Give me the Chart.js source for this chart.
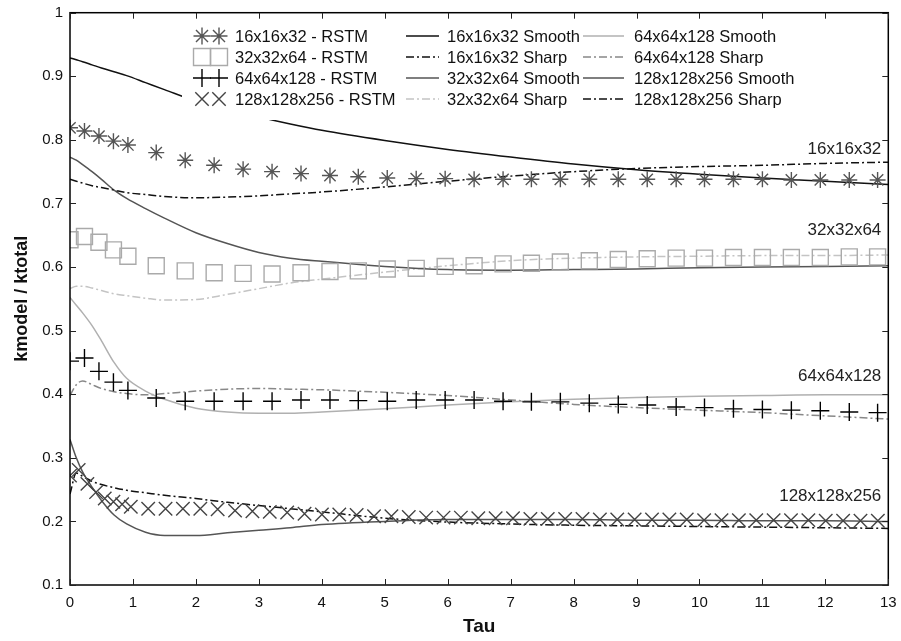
<!DOCTYPE html>
<html>
<head>
<meta charset="utf-8">
<script src="https://cdn.jsdelivr.net/npm/chart.js@4.4.1/dist/chart.umd.min.js"></script>
<style>
html,body{margin:0;padding:0;background:#fff;}
#wrap{width:901px;height:641px;}
</style>
</head>
<body>
<div id="wrap"><canvas id="c" width="901" height="641"></canvas></div>
<script>
// ---- data ----
const tauStar = [0,0.23,0.46,0.69,0.92,1.37,1.83,2.29,2.75,3.21,3.67,4.13,4.58,5.04,5.5,5.96,6.42,6.88,7.33,7.79,8.25,8.71,9.17,9.63,10.08,10.54,11,11.46,11.92,12.38,12.83];
const rstm16 = [0.819,0.814,0.806,0.798,0.792,0.780,0.768,0.760,0.754,0.750,0.747,0.744,0.742,0.740,0.739,0.739,0.738,0.738,0.738,0.738,0.738,0.738,0.738,0.738,0.738,0.738,0.738,0.737,0.737,0.737,0.737];
const rstm32 = [0.643,0.648,0.639,0.627,0.617,0.602,0.594,0.591,0.590,0.589,0.591,0.593,0.594,0.597,0.598,0.601,0.602,0.605,0.606,0.608,0.610,0.612,0.613,0.614,0.614,0.615,0.615,0.615,0.615,0.616,0.616];
const rstm64 = [0.452,0.457,0.436,0.419,0.406,0.394,0.389,0.389,0.389,0.389,0.391,0.391,0.390,0.389,0.391,0.391,0.391,0.389,0.388,0.388,0.386,0.384,0.383,0.380,0.379,0.377,0.376,0.375,0.374,0.372,0.371];
const tauX = [0,0.138,0.276,0.414,0.552,0.69,0.828,0.966,1.242,1.518,1.794,2.07,2.346,2.622,2.898,3.174,3.45,3.726,4.002,4.278,4.554,4.83,5.106,5.382,5.658,5.934,6.21,6.486,6.762,7.038,7.314,7.59,7.866,8.142,8.418,8.694,8.97,9.246,9.522,9.798,10.074,10.35,10.626,10.902,11.178,11.454,11.73,12.006,12.282,12.558,12.834];
const rstm128 = [0.272,0.281,0.259,0.246,0.236,0.231,0.227,0.223,0.220,0.220,0.220,0.220,0.219,0.217,0.216,0.215,0.214,0.212,0.211,0.211,0.210,0.208,0.208,0.207,0.206,0.206,0.206,0.205,0.205,0.205,0.204,0.204,0.204,0.204,0.203,0.203,0.203,0.203,0.203,0.203,0.202,0.202,0.202,0.202,0.202,0.202,0.202,0.201,0.201,0.201,0.201];

const tauCurve = [0,0.1,0.2,0.35,0.5,0.7,0.9,1.2,1.5,2,2.5,3,3.5,4,5,6,7,8,9,10,11,12,13];
const smooth16 = [0.929,0.926,0.923,0.918,0.913,0.907,0.901,0.890,0.879,0.861,0.848,0.836,0.825,0.815,0.799,0.785,0.773,0.762,0.753,0.746,0.740,0.735,0.730];
const sharp16 = [0.738,0.735,0.732,0.728,0.725,0.721,0.717,0.714,0.711,0.709,0.710,0.712,0.715,0.718,0.726,0.735,0.743,0.750,0.755,0.758,0.760,0.763,0.765];
const smooth32 = [0.773,0.768,0.761,0.750,0.738,0.721,0.708,0.692,0.677,0.654,0.637,0.623,0.614,0.609,0.601,0.596,0.595,0.596,0.597,0.599,0.600,0.601,0.602];
const sharp32 = [0.566,0.570,0.570,0.567,0.563,0.558,0.555,0.551,0.548,0.549,0.557,0.566,0.575,0.581,0.592,0.602,0.610,0.614,0.616,0.617,0.618,0.618,0.619];
const smooth64 = [0.552,0.540,0.528,0.508,0.484,0.450,0.425,0.405,0.392,0.378,0.372,0.370,0.370,0.372,0.377,0.383,0.388,0.392,0.395,0.397,0.398,0.399,0.399];
const sharp64 = [0.398,0.415,0.421,0.415,0.409,0.404,0.401,0.399,0.401,0.405,0.408,0.409,0.408,0.407,0.403,0.398,0.391,0.384,0.379,0.375,0.371,0.366,0.361];
const smooth128 = [0.329,0.300,0.278,0.254,0.233,0.210,0.196,0.183,0.178,0.178,0.182,0.186,0.190,0.195,0.200,0.203,0.203,0.203,0.202,0.202,0.201,0.201,0.200];
const sharp128 = [0.243,0.276,0.271,0.263,0.258,0.253,0.249,0.245,0.241,0.236,0.230,0.225,0.220,0.215,0.205,0.199,0.196,0.194,0.193,0.192,0.191,0.190,0.189];

const curveLabels = ["16x16x32","32x32x64","64x64x128","128x128x256"];
const curveLabelValues = [0.785, 0.658, 0.428, 0.240];

// ---- build ----
const pts = (xs, ys) => xs.map((x, i) => ({x: x, y: ys[i]}));
const DASHDOT = [8, 3, 2, 3];

function markerSet(label, ys, xs, style, color, r) {
  return {label, data: pts(xs, ys), showLine: false, pointStyle: style, pointRadius: r,
    pointBorderColor: color, pointBackgroundColor: 'rgba(0,0,0,0)', pointBorderWidth: 1.4,
    borderColor: color, backgroundColor: 'rgba(0,0,0,0)', _marker: style};
}
function lineSet(label, ys, color, dashed) {
  return {label, data: pts(tauCurve, ys), showLine: true, pointRadius: 0, borderColor: color,
    backgroundColor: color, borderWidth: 1.5, borderDash: dashed ? DASHDOT : [],
    cubicInterpolationMode: 'monotone', tension: 0.4, fill: false};
}

const datasets = [
  markerSet('16x16x32 - RSTM', rstm16, tauStar, 'star', '#555555', 8),
  markerSet('32x32x64 - RSTM', rstm32, tauStar, 'rect', '#aaaaaa', 11.3),
  markerSet('64x64x128 - RSTM', rstm64, tauStar, 'cross', '#000000', 9),
  markerSet('128x128x256 - RSTM', rstm128, tauX, 'crossRot', '#444444', 9.5),
  lineSet('16x16x32 Smooth', smooth16, '#111111', false),
  lineSet('16x16x32 Sharp', sharp16, '#111111', true),
  lineSet('32x32x64 Smooth', smooth32, '#555555', false),
  lineSet('32x32x64 Sharp', sharp32, '#c4c4c4', true),
  lineSet('64x64x128 Smooth', smooth64, '#b0b0b0', false),
  lineSet('64x64x128 Sharp', sharp64, '#888888', true),
  lineSet('128x128x256 Smooth', smooth128, '#555555', false),
  lineSet('128x128x256 Sharp', sharp128, '#111111', true)
];

function drawMarker(ctx, style, x, y, r, color) {
  ctx.save();
  ctx.strokeStyle = color; ctx.lineWidth = 1.4; ctx.setLineDash([]);
  ctx.beginPath();
  const d = r * Math.SQRT1_2;
  if (style === 'star' || style === 'cross') {
    ctx.moveTo(x - r, y); ctx.lineTo(x + r, y);
    ctx.moveTo(x, y - r); ctx.lineTo(x, y + r);
  }
  if (style === 'star' || style === 'crossRot') {
    ctx.moveTo(x - d, y - d); ctx.lineTo(x + d, y + d);
    ctx.moveTo(x - d, y + d); ctx.lineTo(x + d, y - d);
  }
  if (style === 'rect') {
    ctx.rect(x - d, y - d, 2 * d, 2 * d);
  }
  ctx.stroke();
  ctx.restore();
}

const overlay = {
  id: 'overlay',
  afterDatasetsDraw(chart) {
    const ctx = chart.ctx;
    const xs = chart.scales.x, ys = chart.scales.y;
    // curve labels
    ctx.save();
    ctx.fillStyle = '#222';
    ctx.font = '17px "Liberation Sans", Arial, sans-serif';
    ctx.textAlign = 'right'; ctx.textBaseline = 'middle';
    curveLabels.forEach((t, i) => ctx.fillText(t, xs.right - 7, ys.getPixelForValue(curveLabelValues[i])));
    ctx.restore();
    // legend box
    ctx.save();
    ctx.fillStyle = '#ffffff';
    ctx.fillRect(182, 20, 620, 100);
    ctx.font = '16.5px "Liberation Sans", Arial, sans-serif';
    ctx.textAlign = 'left'; ctx.textBaseline = 'middle';
    ctx.fillStyle = '#111';
    const rowY = [36, 57, 78, 99];
    const ds = chart.data.datasets;
    const sizes = {star: 8.5, rect: 12, cross: 9, crossRot: 9.5};
    for (let i = 0; i < 4; i++) {
      const d = ds[i];
      drawMarker(ctx, d._marker, 202, rowY[i], sizes[d._marker], d.pointBorderColor);
      drawMarker(ctx, d._marker, 219, rowY[i], sizes[d._marker], d.pointBorderColor);
      ctx.fillText(d.label, 235, rowY[i] + 1);
    }
    const cols = [[406, 439, 447], [583, 624, 634]];
    for (let i = 4; i < 12; i++) {
      const d = ds[i];
      const c = cols[Math.floor((i - 4) / 4)];
      const y = rowY[(i - 4) % 4];
      ctx.save();
      ctx.strokeStyle = d.borderColor; ctx.lineWidth = 1.5; ctx.setLineDash(d.borderDash);
      ctx.beginPath(); ctx.moveTo(c[0], y); ctx.lineTo(c[1], y); ctx.stroke();
      ctx.restore();
      ctx.fillText(d.label, c[2], y + 1);
    }
    ctx.restore();
  },
  afterDraw(chart) {
    const ctx = chart.ctx;
    const a = chart.chartArea;
    const xs = chart.scales.x, ys = chart.scales.y;
    ctx.save();
    ctx.strokeStyle = '#000'; ctx.lineWidth = 1.5; ctx.setLineDash([]);
    ctx.strokeRect(a.left, a.top, a.right - a.left, a.bottom - a.top);
    ctx.lineWidth = 1;
    ctx.strokeStyle = '#222';
    ctx.beginPath();
    const tl = 6;
    xs.ticks.forEach(t => {
      const px = Math.round(xs.getPixelForValue(t.value)) + 0.5;
      ctx.moveTo(px, a.bottom); ctx.lineTo(px, a.bottom - tl);
      ctx.moveTo(px, a.top); ctx.lineTo(px, a.top + tl);
    });
    ys.ticks.forEach(t => {
      const py = Math.round(ys.getPixelForValue(t.value)) + 0.5;
      ctx.moveTo(a.left, py); ctx.lineTo(a.left + tl, py);
      ctx.moveTo(a.right, py); ctx.lineTo(a.right - tl, py);
    });
    ctx.stroke();
    ctx.restore();
  }
};

new Chart(document.getElementById('c'), {
  type: 'scatter',
  data: {datasets},
  options: {
    responsive: false,
    animation: false,
    events: [],
    layout: {padding: {top: 6.5, right: 12, left: 0, bottom: 0}},
    plugins: {legend: {display: false}, tooltip: {enabled: false}, title: {display: false}},
    scales: {
      x: {
        type: 'linear', min: 0, max: 13,
        ticks: {stepSize: 1, padding: 9, color: '#111', font: {family: '"Liberation Sans", Arial, sans-serif', size: 15}},
        grid: {display: false, drawTicks: false},
        border: {display: false},
        title: {display: true, text: 'Tau', color: '#111', padding: {top: 0, bottom: 3},
          font: {family: '"Liberation Sans Narrow", "Liberation Sans", Arial, sans-serif', size: 19, weight: 'bold'}},
        afterFit(s) { s.height = 56; s.paddingLeft = 0; s.paddingRight = 0; }
      },
      y: {
        type: 'linear', min: 0.1, max: 1,
        ticks: {stepSize: 0.1, padding: 7, color: '#111', font: {family: '"Liberation Sans", Arial, sans-serif', size: 15},
          callback: v => String(Number(v.toFixed(1)))},
        grid: {display: false, drawTicks: false},
        border: {display: false},
        title: {display: true, text: 'kmodel / ktotal', color: '#111', padding: {top: 11, bottom: 0},
          font: {family: '"Liberation Sans", Arial, sans-serif', size: 18, weight: 'bold'}},
        afterFit(s) { s.width = 70; s.paddingTop = 0; s.paddingBottom = 0; }
      }
    }
  },
  plugins: [overlay]
});
</script>
</body>
</html>
